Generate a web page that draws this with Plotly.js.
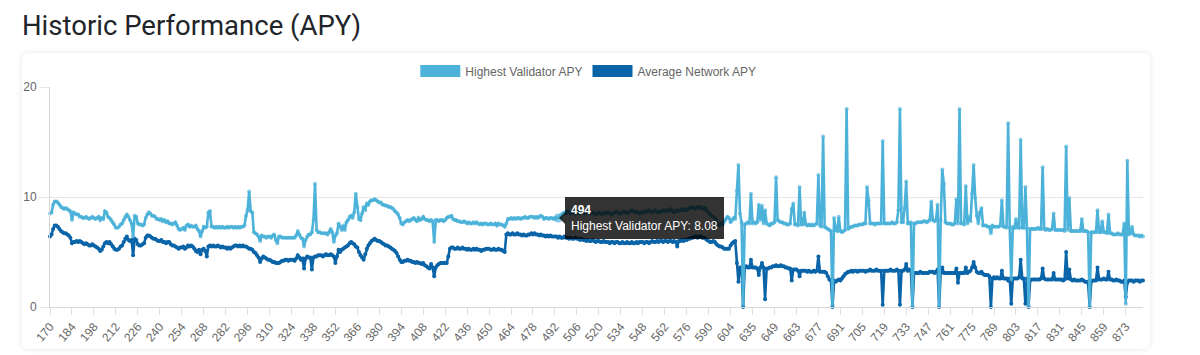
<!DOCTYPE html>
<html>
<head>
<meta charset="utf-8">
<script src="https://cdn.plot.ly/plotly-3.0.1.min.js"></script>
<style>
html,body{margin:0;padding:0;background:#fff;}
#wrap{position:relative;width:1200px;height:355px;overflow:hidden;}
#card{position:absolute;left:22px;top:53px;width:1128px;height:296px;border-radius:6px;box-shadow:0 0 6px rgba(0,0,0,0.10);background:#fff;}
#chart{position:absolute;left:0;top:0;width:1200px;height:355px;}
.legend .traces .js-line{stroke-width:12px !important;stroke-linecap:butt !important;d:path("M5,0h40");}
.legend .traces .scatterpts{display:none;}
</style>
</head>
<body>
<div id="wrap"><div id="card"></div><div id="chart"></div></div>
<script>
// Epoch ranges present in the data (epochs 605-621 are absent)
const epochRanges = [[170, 604], [622, 884]];

// Tick labels shown on the x axis
const tickLabels = [170,184,198,212,226,240,254,268,282,296,310,324,338,352,366,380,394,408,422,436,450,464,478,492,506,520,534,548,562,576,590,604,
  635,649,663,677,691,705,719,733,747,761,775,789,803,817,831,845,859,873];

// Highest Validator APY
const highestApy = [
  8.5,8.6,9.3,9.6,9.6,9.5,9.3,9.1,9.0,8.9,9.0,8.9,8.8,8.7,
  7.9,8.6,8.5,8.4,8.4,8.2,8.2,8.1,8.1,8.2,8.1,8.0,8.1,8.2,
  8.1,8.0,8.1,8.2,7.9,8.1,8.0,8.7,8.6,8.2,8.1,7.9,7.7,7.5,
  7.2,7.2,7.3,7.5,7.6,7.9,8.2,8.4,8.2,7.9,7.6,6.4,8.3,8.2,
  7.6,7.5,7.5,7.4,7.5,8.1,8.4,8.6,8.5,8.3,8.3,8.2,8.0,8.0,
  7.9,8.0,7.8,7.9,7.7,7.8,7.6,7.6,7.5,7.6,7.7,7.4,7.1,7.0,
  7.1,7.2,7.0,7.4,7.5,7.3,7.4,7.3,7.3,7.4,7.1,6.9,6.4,6.9,
  7.3,7.2,7.3,8.6,8.7,7.3,7.3,7.2,7.3,7.2,7.3,7.2,7.3,7.2,
  7.2,7.3,7.2,7.3,7.3,7.2,7.3,7.2,7.3,7.2,7.3,7.3,7.4,8.3,
  8.8,10.5,8.7,8.6,6.8,6.7,6.6,6.4,6.0,6.5,6.4,6.4,6.3,6.4,
  6.4,6.3,6.5,6.6,6.1,5.8,6.4,6.4,6.3,6.3,6.3,6.3,6.3,6.3,
  6.3,6.3,6.3,6.5,6.9,6.6,6.3,6.2,5.5,6.1,6.4,6.6,6.6,6.8,
  7.9,11.2,7.0,6.8,6.8,6.7,6.7,6.7,6.7,6.6,6.8,7.1,6.8,5.9,
  6.5,6.7,7.6,7.3,7.0,7.4,7.0,7.7,7.9,8.2,8.3,8.1,8.6,10.3,
  9.1,8.0,7.9,8.5,9.1,8.8,9.4,9.3,9.6,9.7,9.7,9.8,9.7,9.6,
  9.5,9.5,9.3,9.3,9.2,9.2,9.1,9.1,9.0,8.9,8.7,8.6,8.4,8.1,
  7.6,7.5,7.7,7.8,7.9,7.8,7.9,8.0,8.1,7.9,7.8,8.1,7.9,8.0,
  8.2,8.0,7.9,7.9,7.8,7.9,7.8,5.9,7.9,7.9,7.8,7.9,7.9,7.8,
  7.9,8.1,8.2,8.2,8.3,8.0,7.9,7.9,7.8,7.8,7.7,7.7,7.8,7.7,
  7.6,7.7,7.6,7.6,7.7,7.6,7.7,7.6,7.5,7.6,7.5,7.6,7.6,7.5,
  7.5,7.6,7.5,7.5,7.6,7.4,7.6,7.5,7.5,7.4,7.3,7.6,8.0,8.0,
  8.1,8.0,8.1,8.0,8.1,8.1,8.0,8.1,8.1,8.2,8.1,8.1,8.2,8.2,
  8.2,8.1,8.2,8.1,8.2,8.3,8.2,8.0,8.1,8.1,8.0,8.1,8.1,8.0,
  8.1,8.1,8.08,8.2,8.4,8.5,8.6,8.5,8.7,8.6,8.5,8.7,8.6,8.5,
  8.6,8.7,8.5,8.6,8.6,8.5,8.6,8.7,8.6,8.5,8.6,8.5,8.4,8.5,
  8.6,8.5,8.4,8.5,8.6,8.5,8.6,8.5,8.4,8.5,8.6,8.7,8.6,8.5,
  8.5,8.6,8.7,8.6,8.5,8.6,8.7,8.8,8.7,8.6,8.7,8.6,8.5,8.6,
  8.6,8.7,8.6,8.7,8.8,8.7,8.6,8.7,8.8,8.6,8.7,8.6,8.7,8.8,
  8.7,8.8,8.7,8.8,8.9,8.7,8.6,8.7,8.8,8.7,8.8,8.9,8.8,8.9,
  8.8,8.9,9.0,9.1,9.0,8.9,9.0,9.1,9.0,9.1,9.0,8.9,9.0,8.7,
  8.6,8.4,8.3,8.2,8.1,7.9,7.5,7.4,7.6,7.5,7.8,8.0,8.2,8.1,
  7.7,7.9,8.1,8.0,10.6,12.9,8.5,7.7,0.2,7.5,7.6,7.7,7.6,10.3,
  7.6,7.7,7.6,7.7,9.3,7.9,9.2,7.6,8.8,7.6,7.5,7.4,7.6,7.6,
  7.7,11.8,7.9,7.8,7.7,7.7,7.6,7.6,7.5,7.5,7.6,8.9,9.4,7.5,
  7.5,7.4,10.9,7.5,7.5,8.6,7.5,7.4,7.5,7.4,7.5,7.4,7.5,7.6,
  12.0,7.4,7.3,15.5,7.3,7.2,7.1,7.0,6.9,0.2,8.1,7.0,6.9,8.2,
  6.9,6.8,6.9,7.0,18.0,7.1,7.2,7.3,7.3,7.4,7.4,7.4,7.5,7.5,
  7.5,7.6,7.6,10.9,9.7,7.6,7.6,7.6,7.5,7.6,7.6,7.6,7.6,15.1,
  7.6,7.6,7.6,7.6,7.6,7.7,7.6,7.6,7.7,8.8,18.0,7.7,7.7,9.0,
  11.4,7.6,7.6,7.7,0.1,7.6,7.6,7.7,7.7,7.7,7.7,7.8,7.8,7.7,
  7.8,7.9,9.6,7.9,7.8,7.9,9.3,0.1,7.9,12.5,11.2,7.7,7.6,7.6,
  7.6,7.5,7.5,7.6,9.8,7.6,18.0,7.6,7.6,7.5,11.0,7.6,8.2,7.8,
  10.3,12.9,9.9,8.3,7.6,8.6,9.0,7.4,7.4,7.4,7.3,7.3,6.7,7.4,
  7.3,7.3,7.3,7.3,7.4,9.7,7.3,7.3,7.2,16.7,7.2,2.5,7.3,7.2,
  8.0,7.2,7.2,15.2,7.2,7.2,10.9,7.1,0.1,7.1,7.1,7.1,7.1,7.1,
  7.2,7.1,7.1,12.7,7.1,7.0,7.1,7.0,7.0,7.1,8.5,7.0,7.0,7.0,
  7.0,7.0,7.0,6.9,14.6,7.0,9.9,6.9,6.9,6.9,6.9,6.9,6.9,6.9,
  8.0,6.9,6.9,6.9,6.8,0.1,6.8,6.8,6.8,6.8,8.8,6.8,6.8,7.8,
  6.8,6.8,6.7,8.4,6.7,6.7,6.6,6.6,6.6,6.7,6.6,6.6,6.6,7.6,
  0.3,13.3,6.6,6.7,7.3,6.6,6.5,6.5,6.5,6.4,6.5,6.4
];

// Average Network APY
const averageApy = [
  6.4,6.6,7.1,7.4,7.4,7.3,7.1,6.9,6.8,6.7,6.7,6.6,6.5,6.3,
  5.8,5.9,5.9,6.0,5.9,6.0,5.9,5.8,5.7,5.8,5.7,5.6,5.6,5.7,
  5.6,5.5,5.4,5.3,5.1,5.2,5.5,5.8,5.9,5.8,5.9,5.7,5.5,5.3,
  5.2,5.2,5.3,5.5,5.6,5.9,6.2,6.4,6.1,6.0,6.1,4.7,6.2,6.1,
  5.7,5.6,5.6,5.7,5.8,6.3,6.5,6.5,6.4,6.3,6.2,6.2,6.1,6.0,
  6.0,6.1,5.9,5.9,5.8,5.9,5.9,5.7,5.6,5.6,5.5,5.4,5.3,5.4,
  5.4,5.5,5.3,5.4,5.6,5.5,5.6,5.5,5.3,5.1,5.0,5.2,4.8,5.2,
  5.3,5.1,4.6,5.5,5.6,5.5,5.6,5.5,5.5,5.6,5.5,5.4,5.5,5.4,
  5.4,5.3,5.4,5.3,5.4,5.5,5.6,5.6,5.5,5.6,5.5,5.6,5.5,5.5,
  5.4,5.3,5.3,5.2,5.0,4.9,4.7,4.5,4.1,4.4,4.6,4.5,4.4,4.3,
  4.3,4.2,4.1,4.1,4.0,4.0,4.0,4.1,4.2,4.2,4.3,4.3,4.2,4.3,
  4.3,4.3,4.2,4.4,4.7,4.5,4.3,4.4,3.5,4.4,4.6,4.5,4.5,3.4,
  4.5,4.6,4.6,4.7,4.7,4.7,4.6,4.7,4.8,4.7,4.7,4.8,4.7,4.6,
  4.0,4.6,5.2,5.0,5.2,5.3,5.4,5.5,5.6,5.8,5.9,5.8,5.7,5.5,
  5.4,5.0,4.7,4.5,4.3,4.8,5.3,5.6,5.8,6.0,6.1,6.2,6.1,6.0,
  6.0,5.9,5.8,5.7,5.6,5.6,5.5,5.4,5.3,5.2,5.1,4.9,4.6,4.3,
  4.1,4.1,4.2,4.2,4.3,4.2,4.2,4.1,4.1,4.0,4.1,4.0,4.0,3.9,
  4.0,3.8,3.7,3.6,3.5,3.9,3.6,2.8,3.6,3.8,3.9,4.0,4.0,4.0,
  4.0,4.0,4.6,5.3,5.4,5.4,5.3,5.3,5.4,5.3,5.3,5.4,5.3,5.3,
  5.2,5.3,5.2,5.2,5.3,5.2,5.3,5.2,5.2,5.1,5.2,5.2,5.3,5.3,
  5.3,5.2,5.2,5.3,5.2,5.2,5.3,5.2,5.2,5.1,5.0,6.6,6.7,6.6,
  6.6,6.7,6.6,6.6,6.7,6.6,6.6,6.5,6.6,6.5,6.5,6.6,6.6,6.7,
  6.6,6.7,6.6,6.6,6.5,6.6,6.5,6.5,6.4,6.5,6.4,6.5,6.4,6.4,
  6.4,6.4,6.3,6.4,6.3,6.3,6.4,6.3,6.3,6.2,6.3,6.2,6.2,6.3,
  6.2,6.2,6.1,6.2,6.1,6.1,6.0,6.1,6.0,6.0,6.1,6.0,5.9,6.0,
  6.0,5.9,5.9,6.0,5.9,5.9,5.9,5.8,5.9,5.9,5.8,5.9,5.9,5.8,
  5.8,5.9,5.8,5.8,5.9,5.8,5.8,5.9,5.8,5.8,5.9,5.8,5.9,5.9,
  5.9,5.8,5.9,5.9,5.8,5.9,6.0,5.9,5.9,6.0,5.9,6.0,6.0,5.9,
  6.0,6.0,5.9,6.0,6.0,5.9,6.0,5.9,5.5,6.0,6.0,6.1,6.0,6.1,
  6.1,6.2,6.2,6.3,6.3,6.4,6.4,6.3,6.4,6.4,6.3,6.3,6.2,6.1,
  6.0,5.9,5.9,6.0,5.9,5.7,5.6,5.5,5.5,5.4,5.3,5.3,5.3,5.3,
  5.6,5.8,5.9,6.0,4.0,2.3,3.6,3.6,0.0,3.6,3.7,3.6,3.6,4.3,
  3.6,3.6,3.6,3.5,2.9,3.6,4.0,3.6,0.7,3.5,3.5,3.6,3.6,3.7,
  3.7,3.8,3.7,3.7,3.8,3.7,3.7,3.6,3.6,3.5,3.5,2.4,3.4,3.4,
  3.4,3.3,2.8,3.3,3.3,3.3,3.3,3.2,3.3,3.2,3.2,3.3,3.2,3.3,
  4.6,3.2,3.2,3.2,3.2,3.1,2.8,2.5,2.4,0.0,2.4,2.3,2.4,2.5,
  2.4,2.6,2.8,3.0,3.1,3.2,3.2,3.3,3.2,3.3,3.3,3.2,3.3,3.3,
  3.3,3.3,3.2,3.3,3.3,3.4,3.3,3.3,3.3,3.4,3.3,3.3,3.3,0.2,
  3.3,3.3,3.3,3.3,3.4,3.3,3.3,3.3,3.4,3.3,0.2,3.3,3.3,3.4,
  3.9,3.3,3.4,3.3,0.0,3.1,3.1,3.1,3.1,3.2,3.1,3.1,3.1,3.1,
  3.1,3.2,3.2,3.2,3.1,3.2,3.4,0.0,3.2,3.6,3.1,3.1,3.1,3.1,
  3.1,3.1,3.1,3.1,3.5,2.2,3.1,3.1,3.1,3.1,3.6,3.1,3.2,3.3,
  3.6,4.1,3.6,3.2,3.1,3.1,3.2,3.0,2.9,2.9,2.9,2.8,0.0,2.6,
  2.7,2.6,2.7,2.6,2.6,3.3,2.6,2.6,2.6,2.4,2.6,0.3,2.6,2.6,
  2.6,2.6,2.7,4.3,2.6,2.6,0.3,2.6,0.0,2.4,2.5,2.5,2.5,2.5,
  2.5,2.5,2.6,3.5,2.6,2.5,2.5,2.5,2.5,2.5,3.1,2.5,2.5,2.5,
  2.5,2.5,2.4,2.5,5.0,2.6,3.4,2.5,2.4,2.5,2.4,2.4,2.4,2.4,
  2.5,2.4,2.3,2.3,2.2,0.0,2.3,2.4,2.4,2.4,3.6,2.5,2.5,2.5,
  2.6,2.5,2.5,3.2,2.5,2.5,2.4,2.4,2.5,2.4,2.4,2.3,2.3,2.4,
  0.9,2.2,2.4,2.4,2.4,2.3,2.4,2.4,2.4,2.3,2.4,2.4
];

// Hovered point shown in the reference tooltip
const hoverEpoch = 494;

const epochs = [];
epochRanges.forEach(function (r) { for (let e = r[0]; e <= r[1]; e++) epochs.push(String(e)); });

const lightColor = '#4cb2d9';
const darkColor = '#0a64a8';
const axisFont = {family: 'Liberation Sans, Arial, sans-serif', size: 12, color: '#666'};

const hoverIdx = epochs.indexOf(String(hoverEpoch));
const lightSizes = epochs.map(function (e, i) { return i === hoverIdx ? 9 : 4; });

const traces = [
  {
    x: epochs, y: averageApy, type: 'scatter', mode: 'lines+markers',
    name: 'Average Network APY', legendrank: 2,
    line: {color: darkColor, width: 2.6},
    marker: {size: 4, color: darkColor, line: {width: 0}},
    cliponaxis: false, hoverinfo: 'skip'
  },
  {
    x: epochs, y: highestApy, type: 'scatter', mode: 'lines+markers',
    name: 'Highest Validator APY', legendrank: 1,
    line: {color: lightColor, width: 2.6},
    marker: {size: lightSizes, sizemode: 'diameter', color: lightColor, line: {width: 0}},
    cliponaxis: false, hoverinfo: 'skip'
  }
];

const layout = {
  width: 1200, height: 355,
  paper_bgcolor: 'rgba(0,0,0,0)', plot_bgcolor: 'rgba(0,0,0,0)',
  margin: {l: 50, r: 57, t: 87, b: 48},
  title: {
    text: 'Historic Performance (APY)',
    xref: 'container', yref: 'container',
    x: 22 / 1200, xanchor: 'left',
    y: 1 - 25 / 355, yanchor: 'middle',
    font: {family: 'Roboto, sans-serif', size: 27.5, color: '#212529'}
  },
  showlegend: true,
  legend: {
    orientation: 'h', x: 0.4925, xanchor: 'center', y: 1.073, yanchor: 'middle',
    font: axisFont, bgcolor: 'rgba(0,0,0,0)', itemwidth: 40
  },
  xaxis: {
    type: 'category', range: [0, epochs.length - 1],
    tickmode: 'array', tickvals: tickLabels.map(String), ticktext: tickLabels.map(String),
    tickangle: -50, ticks: 'outside', ticklen: 7, tickcolor: '#e0e0e0',
    showgrid: false, showline: true, linecolor: '#d6d6d6', linewidth: 1,
    zeroline: false, tickfont: axisFont, fixedrange: true
  },
  yaxis: {
    range: [0, 20], tickmode: 'array', tickvals: [0, 10, 20],
    ticks: 'outside', ticklen: 10, tickcolor: '#e6e6e6',
    showgrid: true, gridcolor: '#e6e6e6', gridwidth: 1,
    showline: true, linecolor: '#d6d6d6', linewidth: 1,
    zeroline: false, tickfont: axisFont, fixedrange: true
  },
  shapes: [{
    type: 'path', xref: 'x', yref: 'y', xsizemode: 'pixel', ysizemode: 'pixel',
    xanchor: hoverIdx, yanchor: highestApy[hoverIdx],
    path: 'M1,0 L7,6 L7,-6 Z', fillcolor: 'rgba(0,0,0,0.8)', line: {width: 0}, layer: 'above'
  }],
  annotations: [{
    x: hoverIdx, y: highestApy[hoverIdx], xref: 'x', yref: 'y',
    text: '<b>' + hoverEpoch + '</b><br>Highest Validator APY: ' + highestApy[hoverIdx].toFixed(2),
    showarrow: false, xanchor: 'left', yanchor: 'middle', xshift: 7, align: 'left',
    bgcolor: 'rgba(0,0,0,0.8)', borderpad: 6, borderwidth: 0,
    font: {family: 'Liberation Sans, Arial, sans-serif', size: 12, color: '#fff'}
  }]
};

Plotly.newPlot('chart', traces, layout, {displayModeBar: false, staticPlot: true});
</script>
</body>
</html>
